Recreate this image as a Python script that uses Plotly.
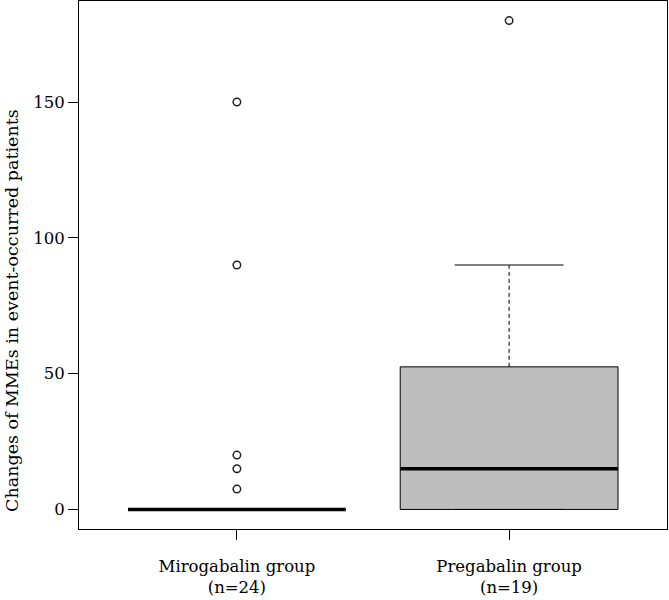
import plotly.graph_objects as go

# ---- data ----
groups = ["Mirogabalin group<br>(n=24)", "Pregabalin group<br>(n=19)"]
q1 = [0, 0]
median = [0, 15]
q3 = [0, 52.5]
lower_whisker = [0, 0]
upper_whisker = [0, 90]
outliers = [[7.5, 15, 20, 90, 150], [180]]
y_ticks = [0, 50, 100, 150]
y_title = "Changes of MMEs in event-occurred patients"

# ---- style ----
FONT = "DejaVu Serif"
BOX_HALF = 0.4
CAP_HALF = 0.2
BOX_FILL = "#BEBEBE"

fig = go.Figure()
positions = list(range(1, len(groups) + 1))

for i, pos in enumerate(positions):
    # box body
    fig.add_trace(go.Scatter(
        x=[pos - BOX_HALF, pos + BOX_HALF, pos + BOX_HALF, pos - BOX_HALF, pos - BOX_HALF],
        y=[q1[i], q1[i], q3[i], q3[i], q1[i]],
        mode="lines", fill="toself", fillcolor=BOX_FILL,
        line=dict(color="black", width=1), hoverinfo="skip", showlegend=False))
    # whiskers (dashed)
    for lo, hi in [(q3[i], upper_whisker[i]), (lower_whisker[i], q1[i])]:
        if hi > lo:
            fig.add_trace(go.Scatter(
                x=[pos, pos], y=[lo, hi], mode="lines",
                line=dict(color="black", width=1, dash="4px,3px"),
                hoverinfo="skip", showlegend=False))
    # whisker caps
    for w in [upper_whisker[i], lower_whisker[i]]:
        fig.add_trace(go.Scatter(
            x=[pos - CAP_HALF, pos + CAP_HALF], y=[w, w], mode="lines",
            line=dict(color="black", width=1), hoverinfo="skip", showlegend=False))
    # median
    fig.add_trace(go.Scatter(
        x=[pos - BOX_HALF, pos + BOX_HALF], y=[median[i], median[i]], mode="lines",
        line=dict(color="black", width=3.5), hoverinfo="skip", showlegend=False))
    # outliers
    fig.add_trace(go.Scatter(
        x=[pos] * len(outliers[i]), y=outliers[i], mode="markers",
        marker=dict(symbol="circle-open", size=7.5, color="#222222", line=dict(width=1.5)),
        showlegend=False))

axis_common = dict(showgrid=False, zeroline=False, showline=True, mirror=True,
                   linecolor="black", linewidth=1, ticks="outside", ticklen=10,
                   tickcolor="black", tickwidth=1,
                   tickfont=dict(family=FONT, size=16.5, color="black"))

fig.update_layout(
    width=669, height=600,
    margin=dict(l=79, r=2, t=1, b=71),
    plot_bgcolor="white", paper_bgcolor="white",
    font=dict(family=FONT, size=16.5, color="black"),
    xaxis=dict(range=[0.42, 2.58], tickvals=positions, ticktext=groups,
               ticklabelstandoff=12, **axis_common),
    yaxis=dict(range=[-7.2, 187.2], tickvals=y_ticks, **axis_common),
)

# y-axis title (placed as in the reference, slightly below the axis centre)
fig.add_annotation(
    text=y_title, textangle=-90, showarrow=False,
    xref="paper", yref="paper", x=0, y=0.413, xshift=-67,
    xanchor="center", yanchor="middle",
    font=dict(family=FONT, size=17.5, color="black"))

fig.write_html("out.html")
